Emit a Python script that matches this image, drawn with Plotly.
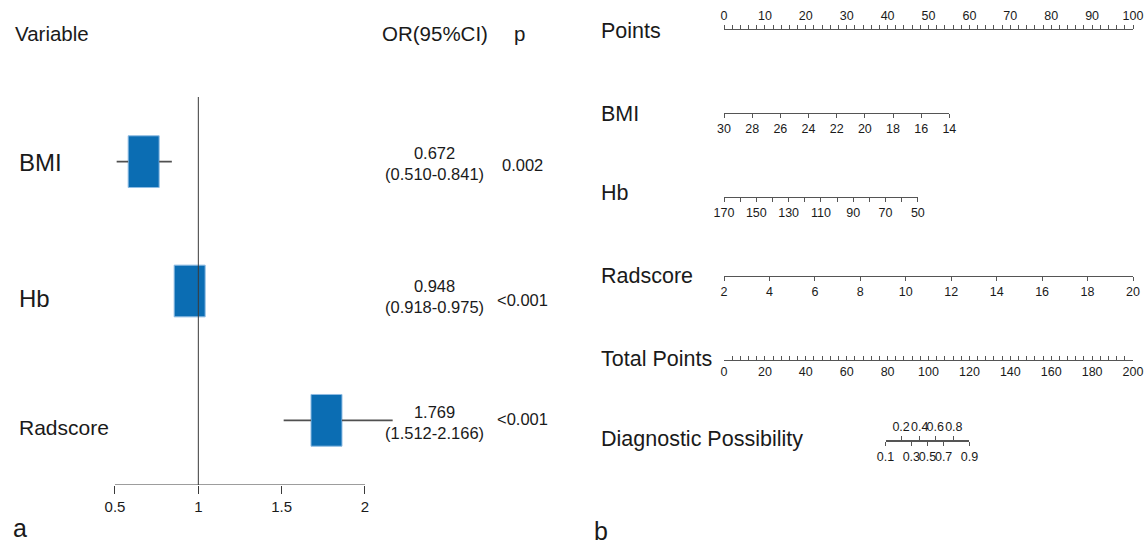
import plotly.graph_objects as go

W, H = 1147, 544

# ---------------- data: forest plot (panel a) ----------------
variables = ["BMI", "Hb", "Radscore"]
or_vals = [0.672, 0.948, 1.769]
ci_low = [0.510, 0.918, 1.512]
ci_high = [0.841, 0.975, 2.166]
p_text = ["0.002", "<0.001", "<0.001"]
or_ticks = [0.5, 1, 1.5, 2]

# ---------------- data: nomogram (panel b) ----------------
points_ticks = list(range(0, 101, 10))
bmi_ticks = [30, 28, 26, 24, 22, 20, 18, 16, 14]
bmi_points = [0, 55.1]          # points at BMI 30 and BMI 14
hb_ticks = [170, 150, 130, 110, 90, 70, 50]
hb_minor = [160, 140, 120, 100, 80, 60]
hb_points = [0, 47.4]           # points at Hb 170 and Hb 50
rad_ticks = [2, 4, 6, 8, 10, 12, 14, 16, 18, 20]
rad_points = [0, 100]           # points at Radscore 2 and 20
total_ticks = list(range(0, 201, 20))
diag_probs = [0.1, 0.2, 0.3, 0.4, 0.5, 0.6, 0.7, 0.8, 0.9]
diag_total = [79.0, 86.6, 91.6, 95.7, 99.5, 103.3, 107.4, 112.4, 120.0]

# ---------------- style ----------------
REG = "Liberation Sans, Arial, Helvetica, sans-serif"
TXT = "#1a1a1a"
AX = "#3a3a3a"
BOX = "#0b6db3"


def fx(p):
    return p / W


def fy(p):
    return 1 - p / H


fig = go.Figure()

# ======== forest plot ========
rows = [3, 2, 1]
box_w = 0.186
box_h = 0.40
px05, px2 = 115.0, 365.0
unit = (px2 - px05) / (or_ticks[-1] - or_ticks[0])
xr = [0.3, 2.4]
x_dom = [fx(px05 + (xr[0] - 0.5) * unit), fx(px05 + (xr[1] - 0.5) * unit)]
y_dom = [fy(485), fy(97)]

# reference line at OR = 1
fig.add_trace(go.Scatter(x=[1, 1], y=[0.5, 3.5], mode="lines",
                         line=dict(color=AX, width=1), hoverinfo="skip", showlegend=False))
# axis baseline
fig.add_trace(go.Scatter(x=[or_ticks[0], or_ticks[-1]], y=[0.5, 0.5], mode="lines",
                         line=dict(color=AX, width=1), hoverinfo="skip", showlegend=False))
# whiskers (only the parts outside the boxes)
wx, wy = [], []
for o, lo, hi, r in zip(or_vals, ci_low, ci_high, rows):
    left, right = o - box_w / 2, o + box_w / 2
    if lo < left:
        wx += [lo, left, None]
        wy += [r, r, None]
    if hi > right:
        wx += [right, hi, None]
        wy += [r, r, None]
fig.add_trace(go.Scatter(x=wx, y=wy, mode="lines", line=dict(color="#505050", width=1.6),
                         hoverinfo="skip", showlegend=False))
# boxes
fig.add_trace(go.Bar(orientation="h", y=rows, x=[box_w] * len(rows),
                     base=[o - box_w / 2 for o in or_vals], width=box_h,
                     marker=dict(color=BOX, line=dict(color="#8fbce3", width=1)),
                     hoverinfo="skip", showlegend=False))

layout = dict(
    width=W, height=H, autosize=False,
    margin=dict(l=0, r=0, t=0, b=0, autoexpand=False),
    paper_bgcolor="white", plot_bgcolor="rgba(0,0,0,0)",
    showlegend=False,
    xaxis=dict(domain=x_dom, range=xr, showgrid=False, zeroline=False, showline=False,
               tickvals=or_ticks, ticktext=[f"{t:g}" for t in or_ticks],
               ticks="outside", ticklen=8, tickwidth=1, tickcolor=AX,
               tickfont=dict(family=REG, size=15, color=TXT), anchor="y"),
    yaxis=dict(domain=y_dom, range=[0.5, 3.5], visible=False, anchor="x"),
)

ann = []


def add_text(x, y, text, size, xanchor="left", xref="paper", yref="paper", yshift=0,
             yanchor="middle"):
    ann.append(dict(x=x, y=y, xref=xref, yref=yref, text=text, showarrow=False,
                    xanchor=xanchor, yanchor=yanchor, yshift=yshift,
                    font=dict(size=size, family=REG, color=TXT)))


# headers
add_text(fx(13), fy(33), "Variable", 20.5)
add_text(fx(435), fy(33), "OR(95%CI)", 20.5, xanchor="center")
add_text(fx(519), fy(33), "p", 20.5, xanchor="center")

var_sizes = [24, 24, 21]
var_shift = [-1, -7, -7]
or_shift = [-2, -5, -2]
p_shift = [-3, -9, 1]
for i, (v, r) in enumerate(zip(variables, rows)):
    add_text(fx(17), r, v, var_sizes[i], yref="y", yshift=var_shift[i])
    add_text(fx(434), r, f"{or_vals[i]:.3f}<br>({ci_low[i]:.3f}-{ci_high[i]:.3f})", 16.5,
             xanchor="center", yref="y", yshift=or_shift[i])
    add_text(fx(522), r, p_text[i], 16.5, xanchor="center", yref="y", yshift=p_shift[i])

add_text(fx(11), 0, "a", 25, yanchor="bottom", yshift=0)
add_text(fx(592), 0, "b", 25, yanchor="bottom", yshift=-3)

# ======== nomogram ========
NX0, NX1 = 724.0, 1133.0
NW = NX1 - NX0


def pts_px(p):
    return NX0 + p / 100.0 * NW


def tot_px(t):
    return NX0 + t / 200.0 * NW


TICKFONT = dict(family=REG, size=12.5, color=TXT)
LBLSIZE = 21.5

nomo = [
    dict(label="Points", ly=29.5, side="top", ticks="outside", rng=[0, 100],
         px=[pts_px(0), pts_px(100)], tickvals=points_ticks, minor=dict(dtick=2, tick0=0),
         lbl_y=31),
    dict(label="BMI", ly=113, side="bottom", ticks="outside", rng=[bmi_ticks[0], bmi_ticks[-1]],
         px=[pts_px(bmi_points[0]), pts_px(bmi_points[1])], tickvals=bmi_ticks, minor=None,
         lbl_y=114),
    dict(label="Hb", ly=197, side="bottom", ticks="outside", rng=[hb_ticks[0], hb_ticks[-1]],
         px=[pts_px(hb_points[0]), pts_px(hb_points[1])], tickvals=hb_ticks,
         minor=dict(tickvals=hb_minor), lbl_y=193),
    dict(label="Radscore", ly=276, side="bottom", ticks="outside", rng=[rad_ticks[0], rad_ticks[-1]],
         px=[pts_px(rad_points[0]), pts_px(rad_points[1])], tickvals=rad_ticks, minor=None,
         lbl_y=276),
    dict(label="Total Points", ly=360, side="bottom", ticks="inside", rng=[0, 200],
         px=[tot_px(0), tot_px(200)], tickvals=total_ticks, minor=dict(dtick=4, tick0=0),
         lbl_y=359),
    dict(label="Diagnostic Possibility", ly=441, side="bottom", ticks="outside",
         rng=[diag_total[0], diag_total[-1]],
         px=[tot_px(diag_total[0]), tot_px(diag_total[-1])],
         tickvals=diag_total[0::2], ticktext=[f"{p:g}" for p in diag_probs[0::2]],
         minor=None, lbl_y=439),
    dict(label=None, ly=441, side="top", ticks="outside",
         rng=[diag_total[0], diag_total[-1]],
         px=[tot_px(diag_total[0]), tot_px(diag_total[-1])],
         tickvals=diag_total[1::2], ticktext=[f"{p:g}" for p in diag_probs[1::2]],
         minor=None, lbl_y=None),
]

for k, a in enumerate(nomo, start=2):
    ly = fy(a["ly"])
    if a["side"] == "bottom":
        ydom = [ly, min(1.0, ly + 0.01)]
    else:
        ydom = [max(0.0, ly - 0.01), ly]
    xa = dict(domain=[fx(a["px"][0]), fx(a["px"][1])], range=a["rng"], anchor=f"y{k}",
              side=a["side"], showline=True, linecolor="#555555", linewidth=1,
              showgrid=False, zeroline=False, ticks=a["ticks"], ticklen=4, tickwidth=1,
              tickcolor="#555555", tickvals=a["tickvals"],
              ticktext=a.get("ticktext", [f"{t:g}" for t in a["tickvals"]]),
              tickfont=TICKFONT, tickangle=0)
    if a["minor"] is not None:
        m = dict(ticks=a["ticks"], ticklen=4, tickwidth=1, tickcolor="#555555", showgrid=False)
        m.update(a["minor"])
        xa["minor"] = m
    layout[f"xaxis{k}"] = xa
    layout[f"yaxis{k}"] = dict(domain=ydom, range=[0, 1], visible=False, anchor=f"x{k}")
    fig.add_trace(go.Scatter(x=a["rng"], y=[0.5, 0.5], xaxis=f"x{k}", yaxis=f"y{k}",
                             mode="markers", marker=dict(opacity=0), hoverinfo="skip",
                             showlegend=False))
    if a["label"]:
        add_text(fx(599), fy(a["lbl_y"]), a["label"], LBLSIZE)

layout["annotations"] = ann
fig.update_layout(**layout)

fig.write_html("out.html", config={"displayModeBar": False},
               post_script="document.body.style.margin='0';")
